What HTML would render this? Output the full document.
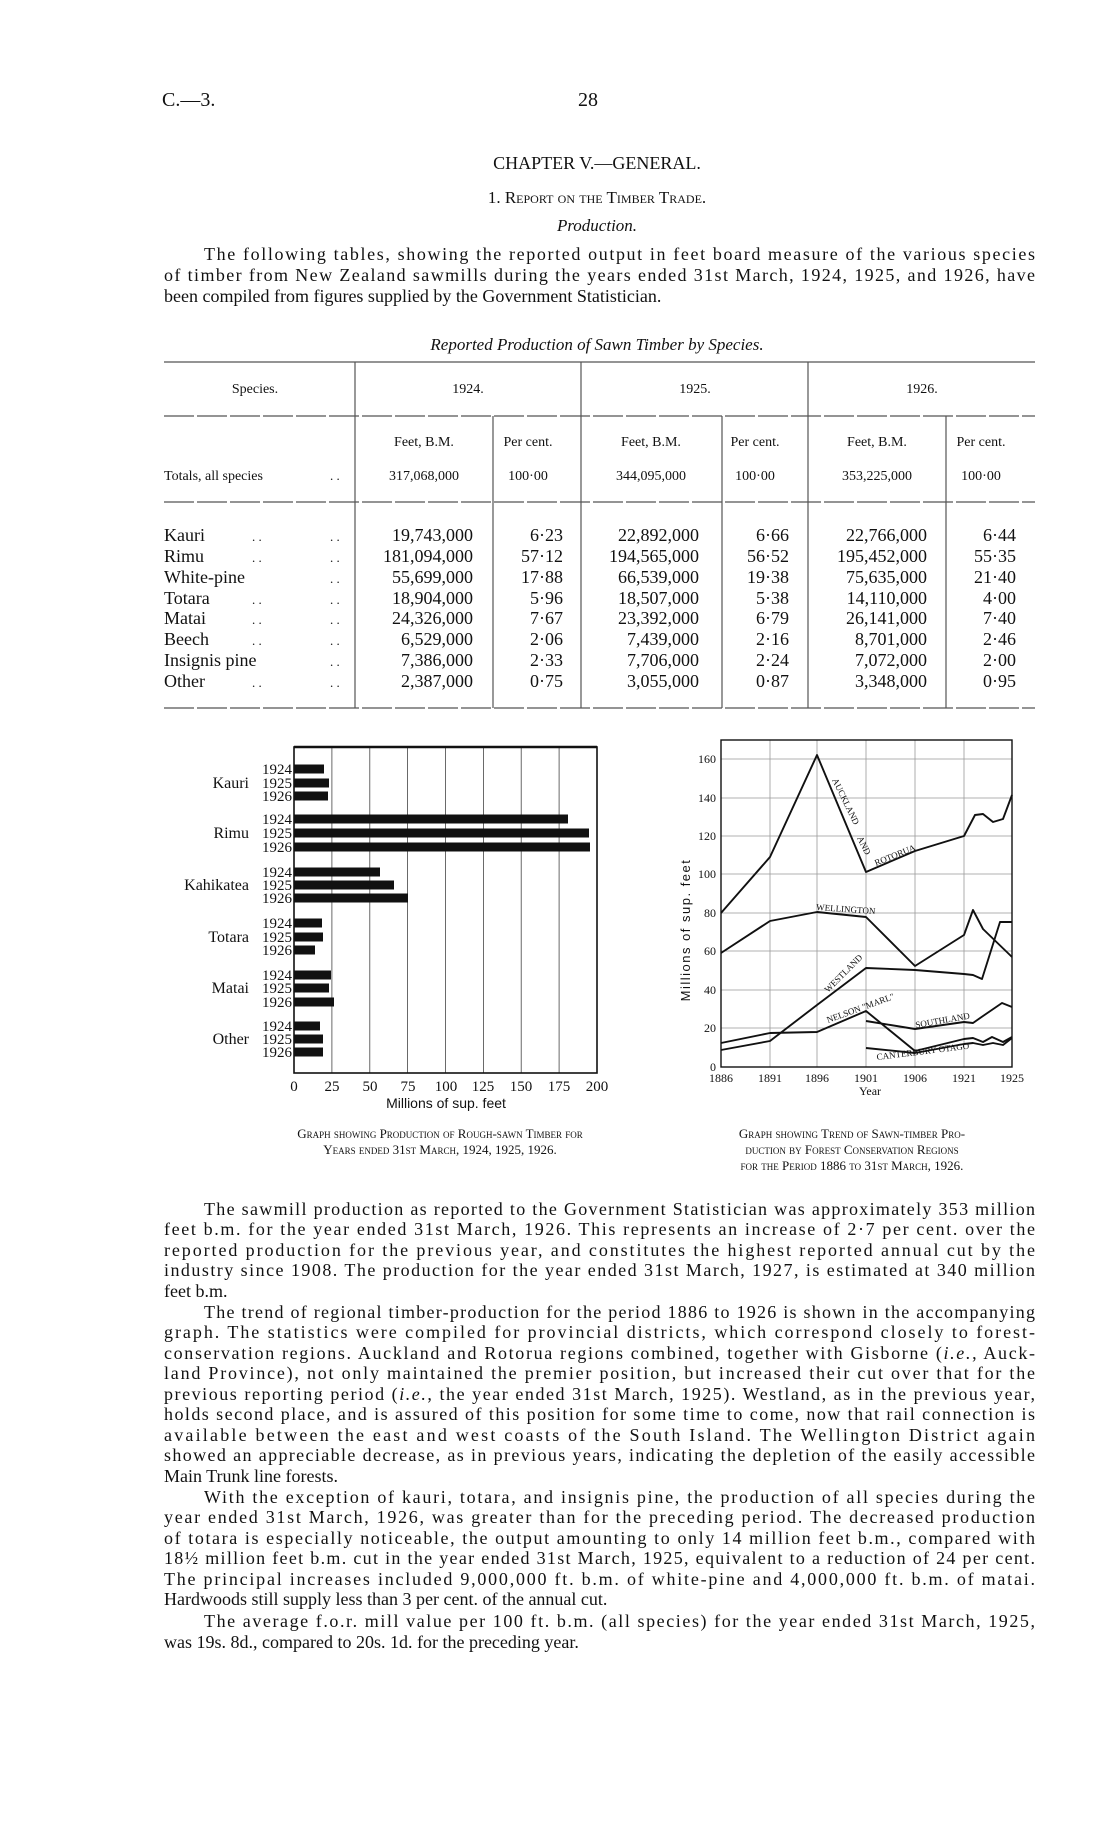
<!DOCTYPE html>
<html><head><meta charset="utf-8"><style>
html,body{margin:0;padding:0;background:#fff;}
svg{display:block;}
text{font-family:"Liberation Serif",serif;fill:#111;}
.sc{font-variant:small-caps;}
.sans{font-family:"Liberation Sans",sans-serif;}
</style></head><body>
<svg width="1114" height="1825" viewBox="0 0 1114 1825" xmlns="http://www.w3.org/2000/svg">
<rect width="1114" height="1825" fill="#fff"/>
<text x="162" y="106" font-size="20">C.—3.</text>
<text x="578" y="106" font-size="20">28</text>
<text x="597" y="169" font-size="18" text-anchor="middle">CHAPTER V.—GENERAL.</text>
<text x="597" y="203" font-size="17" text-anchor="middle" class="sc">1. Report on the Timber Trade.</text>
<text x="597" y="231" font-size="17" text-anchor="middle" font-style="italic">Production.</text>
<g font-size="18">
<text x="204" y="260" textLength="831" lengthAdjust="spacing">The following tables, showing the reported output in feet board measure of the various species</text>
<text x="164" y="281" textLength="871" lengthAdjust="spacing">of timber from New Zealand sawmills during the years ended 31st March, 1924, 1925, and 1926, have</text>
<text x="164" y="302">been compiled from figures supplied by the Government Statistician.</text>
</g>
<text x="597" y="350" font-size="17" text-anchor="middle" font-style="italic">Reported Production of Sawn Timber by Species.</text>
<g stroke="#555" stroke-width="1.2">
<line x1="164" y1="362" x2="1035" y2="362"/>
<line x1="164" y1="416" x2="1035" y2="416" stroke-dasharray="30 3"/>
<line x1="164" y1="502" x2="1035" y2="502" stroke-dasharray="30 3"/>
<line x1="164" y1="708" x2="1035" y2="708" stroke-dasharray="30 3"/>
<line x1="355" y1="362" x2="355" y2="708"/>
<line x1="581" y1="362" x2="581" y2="708"/>
<line x1="808" y1="362" x2="808" y2="708"/>
<line x1="493" y1="416" x2="493" y2="708"/>
<line x1="722" y1="416" x2="722" y2="708"/>
<line x1="946" y1="416" x2="946" y2="708"/>
</g>
<g font-size="14" text-anchor="middle">
<text x="255" y="393">Species.</text>
<text x="468" y="393">1924.</text>
<text x="695" y="393">1925.</text>
<text x="922" y="393">1926.</text>
<text x="424" y="446">Feet, B.M.</text><text x="528" y="446">Per cent.</text>
<text x="651" y="446">Feet, B.M.</text><text x="755" y="446">Per cent.</text>
<text x="877" y="446">Feet, B.M.</text><text x="981" y="446">Per cent.</text>
<text x="424" y="480">317,068,000</text><text x="528" y="480">100·00</text>
<text x="651" y="480">344,095,000</text><text x="755" y="480">100·00</text>
<text x="877" y="480">353,225,000</text><text x="981" y="480">100·00</text>
</g>
<text x="164" y="480" font-size="14">Totals, all species</text>
<text x="330" y="480" font-size="13">. .</text>
<g font-size="18">
<g>
<text x="164" y="541">Kauri</text><text x="164" y="562">Rimu</text><text x="164" y="583">White-pine</text><text x="164" y="604">Totara</text>
<text x="164" y="624">Matai</text><text x="164" y="645">Beech</text><text x="164" y="666">Insignis pine</text><text x="164" y="687">Other</text>
</g>
<g font-size="13">
<text x="252" y="541">. .</text><text x="252" y="562">. .</text><text x="252" y="604">. .</text><text x="252" y="624">. .</text><text x="252" y="645">. .</text><text x="252" y="687">. .</text>
<text x="330" y="541">. .</text><text x="330" y="562">. .</text><text x="330" y="583">. .</text><text x="330" y="604">. .</text><text x="330" y="624">. .</text><text x="330" y="645">. .</text><text x="330" y="666">. .</text><text x="330" y="687">. .</text>
</g>
<g text-anchor="end">
<text x="473" y="541">19,743,000</text><text x="473" y="562">181,094,000</text><text x="473" y="583">55,699,000</text><text x="473" y="604">18,904,000</text><text x="473" y="624">24,326,000</text><text x="473" y="645">6,529,000</text><text x="473" y="666">7,386,000</text><text x="473" y="687">2,387,000</text>
<text x="563" y="541">6·23</text><text x="563" y="562">57·12</text><text x="563" y="583">17·88</text><text x="563" y="604">5·96</text><text x="563" y="624">7·67</text><text x="563" y="645">2·06</text><text x="563" y="666">2·33</text><text x="563" y="687">0·75</text>
<text x="699" y="541">22,892,000</text><text x="699" y="562">194,565,000</text><text x="699" y="583">66,539,000</text><text x="699" y="604">18,507,000</text><text x="699" y="624">23,392,000</text><text x="699" y="645">7,439,000</text><text x="699" y="666">7,706,000</text><text x="699" y="687">3,055,000</text>
<text x="789" y="541">6·66</text><text x="789" y="562">56·52</text><text x="789" y="583">19·38</text><text x="789" y="604">5·38</text><text x="789" y="624">6·79</text><text x="789" y="645">2·16</text><text x="789" y="666">2·24</text><text x="789" y="687">0·87</text>
<text x="927" y="541">22,766,000</text><text x="927" y="562">195,452,000</text><text x="927" y="583">75,635,000</text><text x="927" y="604">14,110,000</text><text x="927" y="624">26,141,000</text><text x="927" y="645">8,701,000</text><text x="927" y="666">7,072,000</text><text x="927" y="687">3,348,000</text>
<text x="1016" y="541">6·44</text><text x="1016" y="562">55·35</text><text x="1016" y="583">21·40</text><text x="1016" y="604">4·00</text><text x="1016" y="624">7·40</text><text x="1016" y="645">2·46</text><text x="1016" y="666">2·00</text><text x="1016" y="687">0·95</text>
</g>
</g>

<!-- BAR CHART -->
<g stroke="#444" stroke-width="0.8">
<line x1="331.9" y1="747" x2="331.9" y2="1073"/><line x1="369.8" y1="747" x2="369.8" y2="1073"/>
<line x1="407.6" y1="747" x2="407.6" y2="1073"/><line x1="445.5" y1="747" x2="445.5" y2="1073"/>
<line x1="483.4" y1="747" x2="483.4" y2="1073"/><line x1="521.2" y1="747" x2="521.2" y2="1073"/>
<line x1="559.1" y1="747" x2="559.1" y2="1073"/>
</g>
<rect x="294" y="747" width="303" height="326" fill="none" stroke="#111" stroke-width="1.6"/>
<line x1="294" y1="747" x2="597" y2="747" stroke="#111" stroke-width="2.5"/>
<g fill="#111">
<rect x="294" y="764.5" width="30" height="9"/><rect x="294" y="778.5" width="35" height="9"/><rect x="294" y="791.5" width="34" height="9"/>
<rect x="294" y="814.5" width="274" height="9"/><rect x="294" y="828.5" width="295" height="9"/><rect x="294" y="842.5" width="296" height="9"/>
<rect x="294" y="867.5" width="86" height="9"/><rect x="294" y="880.5" width="100" height="9"/><rect x="294" y="893.5" width="114" height="9"/>
<rect x="294" y="918.5" width="28" height="9"/><rect x="294" y="932.5" width="29" height="9"/><rect x="294" y="945.5" width="21" height="9"/>
<rect x="294" y="970.5" width="37" height="9"/><rect x="294" y="983.5" width="35" height="9"/><rect x="294" y="997.5" width="40" height="9"/>
<rect x="294" y="1021.5" width="26" height="9"/><rect x="294" y="1034.5" width="29" height="9"/><rect x="294" y="1047.5" width="29" height="9"/>
</g>
<g font-size="15" text-anchor="end">
<text x="292" y="774">1924</text><text x="292" y="788">1925</text><text x="292" y="801">1926</text>
<text x="292" y="824">1924</text><text x="292" y="838">1925</text><text x="292" y="852">1926</text>
<text x="292" y="877">1924</text><text x="292" y="890">1925</text><text x="292" y="903">1926</text>
<text x="292" y="928">1924</text><text x="292" y="942">1925</text><text x="292" y="955">1926</text>
<text x="292" y="980">1924</text><text x="292" y="993">1925</text><text x="292" y="1007">1926</text>
<text x="292" y="1031">1924</text><text x="292" y="1044">1925</text><text x="292" y="1057">1926</text>
</g>
<g font-size="16" text-anchor="end">
<text x="249" y="788">Kauri</text><text x="249" y="838">Rimu</text><text x="249" y="890">Kahikatea</text>
<text x="249" y="942">Totara</text><text x="249" y="993">Matai</text><text x="249" y="1044">Other</text>
</g>
<g font-size="15" text-anchor="middle">
<text x="294" y="1091">0</text><text x="332" y="1091">25</text><text x="370" y="1091">50</text><text x="408" y="1091">75</text>
<text x="446" y="1091">100</text><text x="483" y="1091">125</text><text x="521" y="1091">150</text><text x="559" y="1091">175</text><text x="597" y="1091">200</text>
<text x="446" y="1108" class="sans" font-size="14">Millions of sup. feet</text>
</g>
<g font-size="13" text-anchor="middle" class="sc">
<text x="440" y="1138">Graph showing Production of Rough-sawn Timber for</text>
<text x="440" y="1154">Years ended 31st March, 1924, 1925, 1926.</text>
<text x="852" y="1138">Graph showing Trend of Sawn-timber Pro-</text>
<text x="852" y="1154">duction by Forest Conservation Regions</text>
<text x="852" y="1170">for the Period 1886 to 31st March, 1926.</text>
</g>

<!-- LINE CHART -->
<g stroke="#999" stroke-width="0.8">
<line x1="721" y1="1028" x2="1012" y2="1028"/><line x1="721" y1="990" x2="1012" y2="990"/>
<line x1="721" y1="951" x2="1012" y2="951"/><line x1="721" y1="913" x2="1012" y2="913"/>
<line x1="721" y1="874" x2="1012" y2="874"/><line x1="721" y1="836" x2="1012" y2="836"/>
<line x1="721" y1="798" x2="1012" y2="798"/><line x1="721" y1="759" x2="1012" y2="759"/>
<line x1="770" y1="740" x2="770" y2="1067"/><line x1="817" y1="740" x2="817" y2="1067"/>
<line x1="866" y1="740" x2="866" y2="1067"/><line x1="915" y1="740" x2="915" y2="1067"/>
<line x1="964" y1="740" x2="964" y2="1067"/>
</g>
<rect x="721" y="740" width="291" height="327" fill="none" stroke="#111" stroke-width="1.4"/>
<g fill="none" stroke="#111" stroke-width="1.9" stroke-linejoin="round">
<polyline points="721,913 770,857 817,755 866,872 915,851 964,836 975,815 983,814 993,822 1003,819 1012,795"/>
<polyline points="721,953 770,921 817,912 866,917 915,966 964,935 973,910 983,929 1012,957"/>
<polyline points="721,1050 770,1041 817,1005 866,968 915,970 964,974 973,975 982,979 1000,922 1012,922"/>
<polyline points="721,1043 770,1033 817,1032 866,1011 915,1051 964,1039 973,1038 983,1042 992,1037 1003,1042 1012,1037"/>
<polyline points="866,1021 915,1029 964,1022 973,1023 983,1016 1002,1003 1012,1007"/>
<polyline points="866,1048 915,1053 964,1044 973,1043 983,1045 993,1043 1003,1045 1012,1038"/>
</g>
<g class="sans" font-size="9" fill="#111">
<text transform="translate(832,780) rotate(64)">AUCKLAND</text>
<text transform="translate(857,838) rotate(64)">AND</text>
<text transform="translate(876,866) rotate(-22)">ROTORUA</text>
<text transform="translate(816,910) rotate(4)">WELLINGTON</text>
<text transform="translate(828,993) rotate(-45)">WESTLAND</text>
<text transform="translate(828,1023) rotate(-20)">NELSON "MARL"</text>
<text transform="translate(916,1028) rotate(-10)">SOUTHLAND</text>
<text transform="translate(877,1060) rotate(-7)">CANTERBURY  OTAGO</text>
</g>
<g font-size="12" text-anchor="end">
<text x="716" y="1071">0</text><text x="716" y="1032">20</text><text x="716" y="994">40</text><text x="716" y="955">60</text>
<text x="716" y="917">80</text><text x="716" y="878">100</text><text x="716" y="840">120</text><text x="716" y="802">140</text><text x="716" y="763">160</text>
</g>
<g font-size="12" text-anchor="middle">
<text x="721" y="1082">1886</text><text x="770" y="1082">1891</text><text x="817" y="1082">1896</text><text x="866" y="1082">1901</text>
<text x="915" y="1082">1906</text><text x="964" y="1082">1921</text><text x="1012" y="1082">1925</text>
<text x="870" y="1095" font-size="12">Year</text>
</g>
<text transform="translate(690,930) rotate(-90)" text-anchor="middle" class="sans" font-size="13" letter-spacing="1.5">Millions of sup. feet</text>

<!-- BODY TEXT -->
<g font-size="18">
<text x="204" y="1215" textLength="831" lengthAdjust="spacing">The sawmill production as reported to the Government Statistician was approximately 353 million</text>
<text x="164" y="1235" textLength="871" lengthAdjust="spacing">feet b.m. for the year ended 31st March, 1926.  This represents an increase of 2·7 per cent. over the</text>
<text x="164" y="1256" textLength="871" lengthAdjust="spacing">reported production for the previous year, and constitutes the highest reported annual cut by the</text>
<text x="164" y="1276" textLength="871" lengthAdjust="spacing">industry since 1908.  The production for the year ended 31st March, 1927, is estimated at 340 million</text>
<text x="164" y="1297">feet b.m.</text>
<text x="204" y="1318" textLength="831" lengthAdjust="spacing">The trend of regional timber-production for the period 1886 to 1926 is shown in the accompanying</text>
<text x="164" y="1338" textLength="871" lengthAdjust="spacing">graph.  The statistics were compiled for provincial districts, which correspond closely to forest-</text>
<text x="164" y="1359" textLength="871" lengthAdjust="spacing">conservation regions.  Auckland and Rotorua regions combined, together with Gisborne (<tspan font-style="italic">i.e.</tspan>, Auck-</text>
<text x="164" y="1379" textLength="871" lengthAdjust="spacing">land Province), not only maintained the premier position, but increased their cut over that for the</text>
<text x="164" y="1400" textLength="871" lengthAdjust="spacing">previous reporting period (<tspan font-style="italic">i.e.</tspan>, the year ended 31st March, 1925).  Westland, as in the previous year,</text>
<text x="164" y="1420" textLength="871" lengthAdjust="spacing">holds second place, and is assured of this position for some time to come, now that rail connection is</text>
<text x="164" y="1441" textLength="871" lengthAdjust="spacing">available between the east and west coasts of the South Island.  The Wellington District again</text>
<text x="164" y="1461" textLength="871" lengthAdjust="spacing">showed an appreciable decrease, as in previous years, indicating the depletion of the easily accessible</text>
<text x="164" y="1482">Main Trunk line forests.</text>
<text x="204" y="1503" textLength="831" lengthAdjust="spacing">With the exception of kauri, totara, and insignis pine, the production of all species during the</text>
<text x="164" y="1523" textLength="871" lengthAdjust="spacing">year ended 31st March, 1926, was greater than for the preceding period.  The decreased production</text>
<text x="164" y="1544" textLength="871" lengthAdjust="spacing">of totara is especially noticeable, the output amounting to only 14 million feet b.m., compared with</text>
<text x="164" y="1564" textLength="871" lengthAdjust="spacing">18½ million feet b.m. cut in the year ended 31st March, 1925, equivalent to a reduction of 24 per cent.</text>
<text x="164" y="1585" textLength="871" lengthAdjust="spacing">The principal increases included 9,000,000 ft. b.m. of white-pine and 4,000,000 ft. b.m. of matai.</text>
<text x="164" y="1605">Hardwoods still supply less than 3 per cent. of the annual cut.</text>
<text x="204" y="1627" textLength="831" lengthAdjust="spacing">The average f.o.r. mill value per 100 ft. b.m. (all species) for the year ended 31st March, 1925,</text>
<text x="164" y="1648">was 19s. 8d., compared to 20s. 1d. for the preceding year.</text>
</g>
</svg>
</body></html>
